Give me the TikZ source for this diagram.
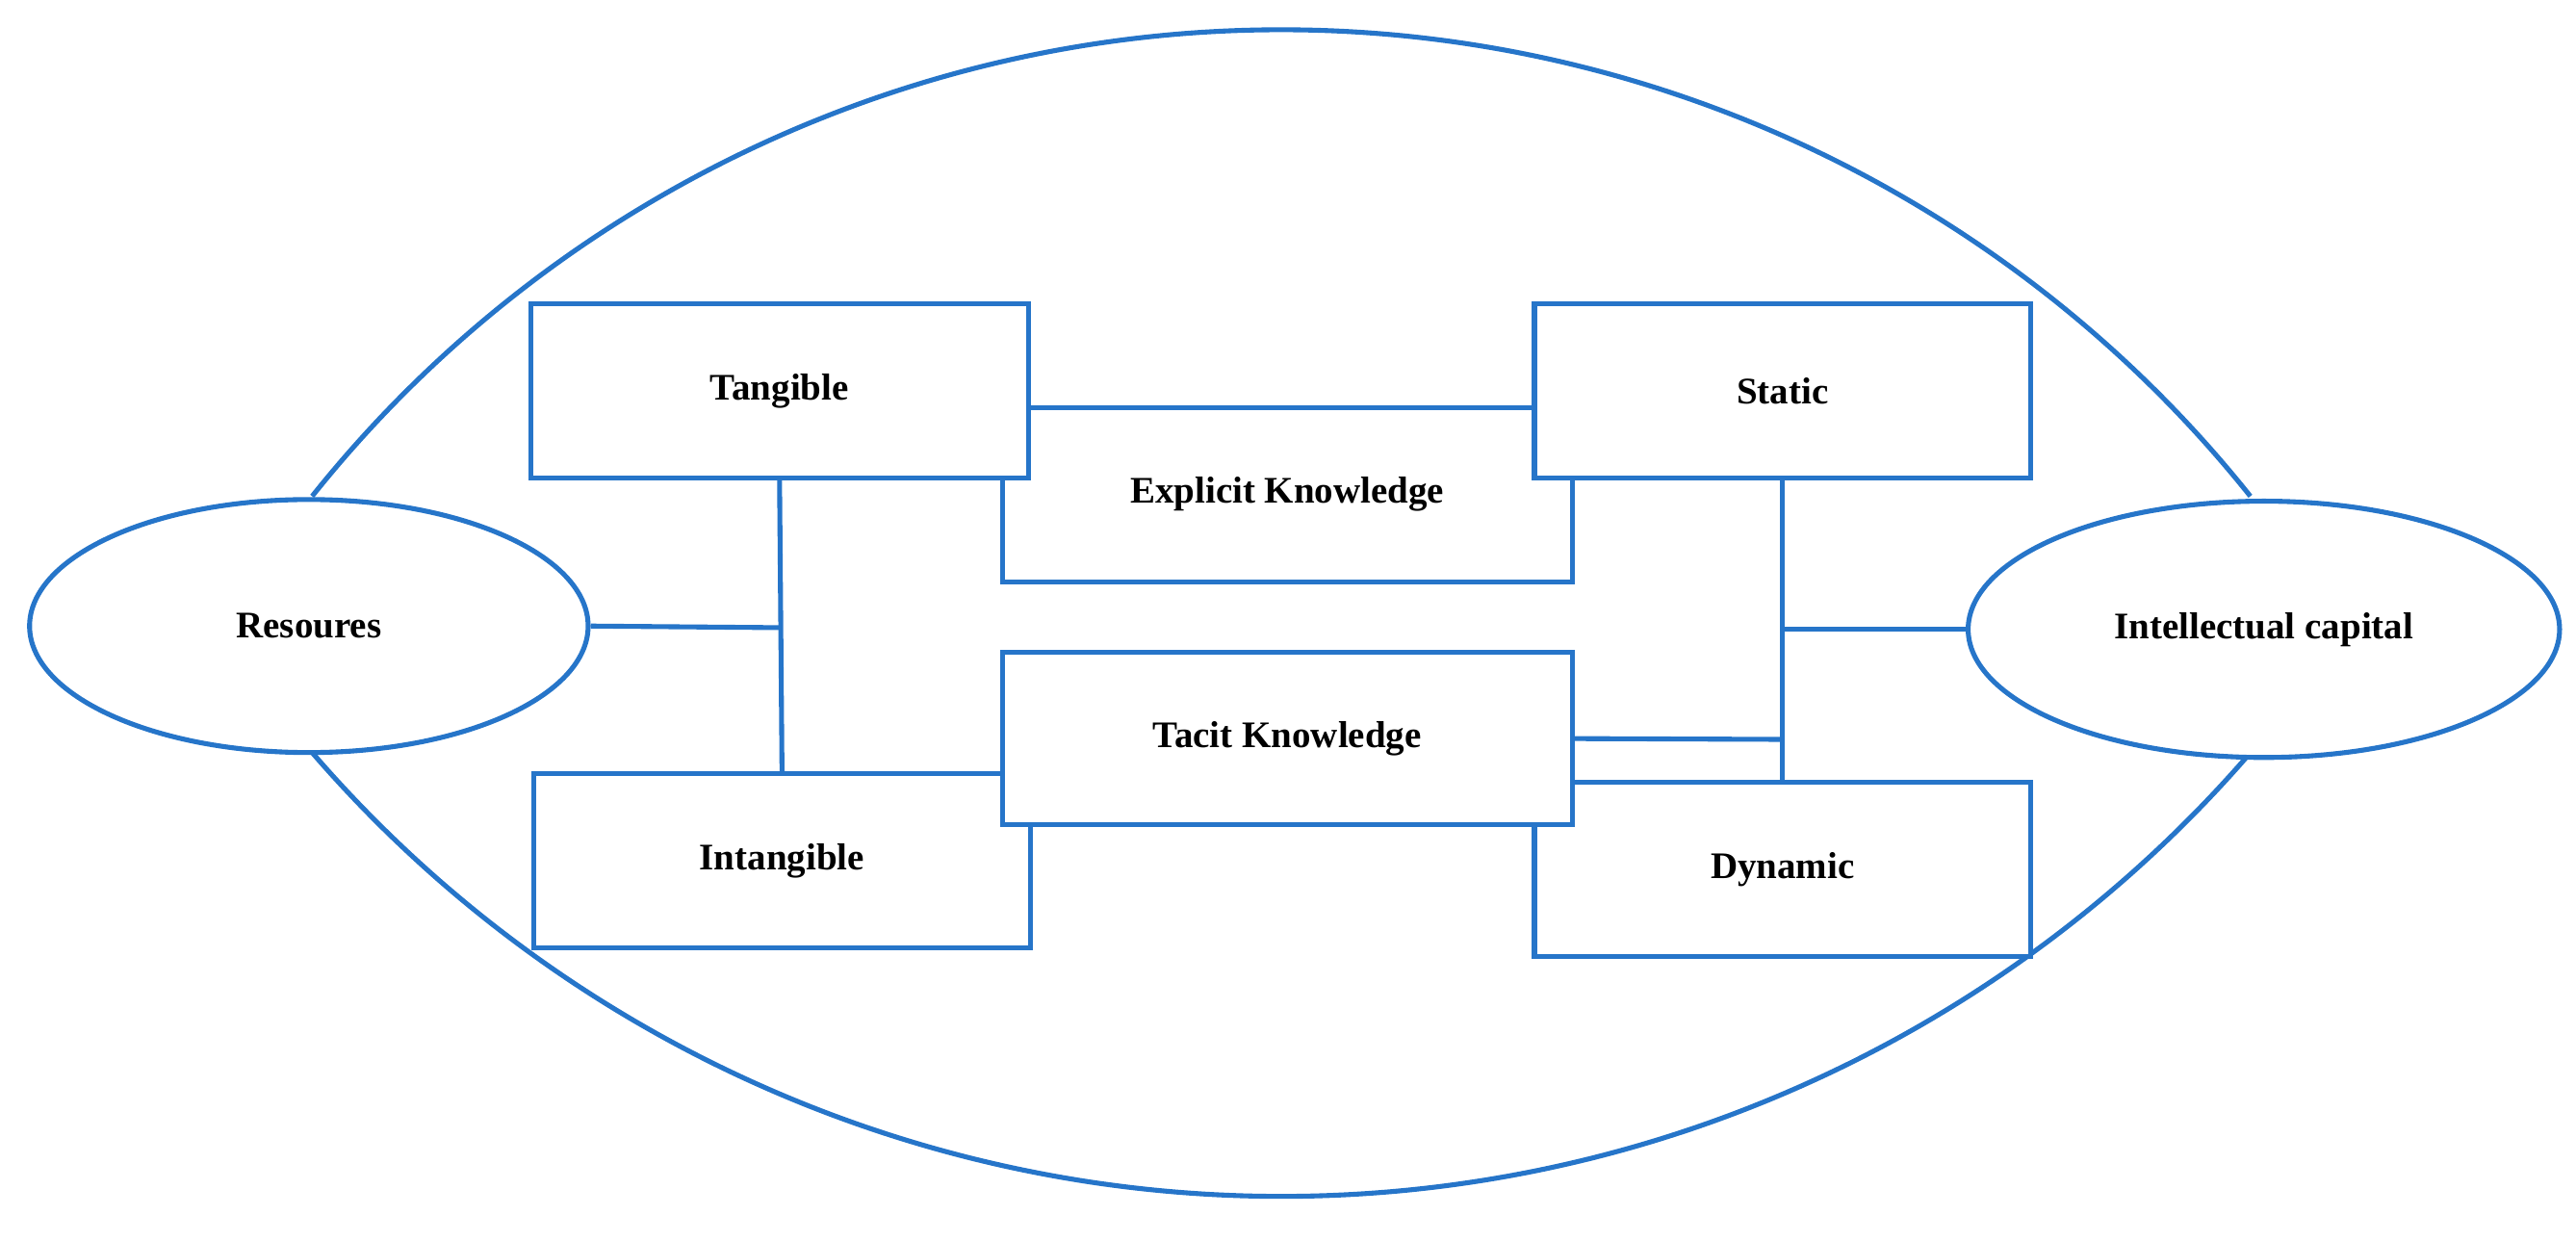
\documentclass[tikz,border=0pt]{standalone}
\usetikzlibrary{shapes.geometric}
\usepackage{fontspec}
\setmainfont{Liberation Serif}
\begin{document}
\begin{tikzpicture}[x=0.02cm,y=-0.02cm,
  ln/.style={draw={rgb,255:red,38;green,117;blue,201},line width=1.7pt},
  sh/.style={ln,fill=white,inner sep=0pt,font=\fontsize{13}{15}\selectfont\bfseries},
  bx/.style n args={2}{sh,rectangle,minimum width=#1*0.02cm,minimum height=#2*0.02cm},
  el/.style n args={2}{sh,ellipse,minimum width=#1*0.02cm,minimum height=#2*0.02cm}]
\useasboundingbox (0,0) rectangle (1568,755);
% lens
\draw[ln] (190,302) arc[start angle=141.4,end angle=38.6,radius=15.1cm];
\draw[ln] (190,458) arc[start angle=-139.2,end angle=-40.8,radius=15.59cm];
% background boxes
\node[bx={347}{106}] (exp) at (783.5,301) {Explicit Knowledge};
\node[bx={302}{106}] (int) at (476,524) {Intangible};
\node[bx={302}{106}] (dyn) at (1085,529) {Dynamic};
% foreground boxes
\node[bx={303}{106}] (tan) at (474.5,238) {Tangible};
\node[bx={302}{106}] (sta) at (1085,238) {Static};
\node[bx={347}{105}] (tac) at (783.5,449.5) {Tacit Knowledge};
% ellipses
\node[el={340}{154}] (res) at (188,381) {Resoures};
\node[el={360}{156}] (ic) at (1378,383) {Intellectual capital};
% connectors
\coordinate (j1) at (475,382);
\coordinate (j2) at (1085,383);
\coordinate (j3) at (1085,450);
\draw[ln] (tan.south) -- (int.north);
\draw[ln] (res.east) -- (j1);
\draw[ln] (sta.south) -- (dyn.north);
\draw[ln] (ic.west) -- (j2);
\draw[ln] (tac.east) -- (j3);
\end{tikzpicture}
\end{document}
